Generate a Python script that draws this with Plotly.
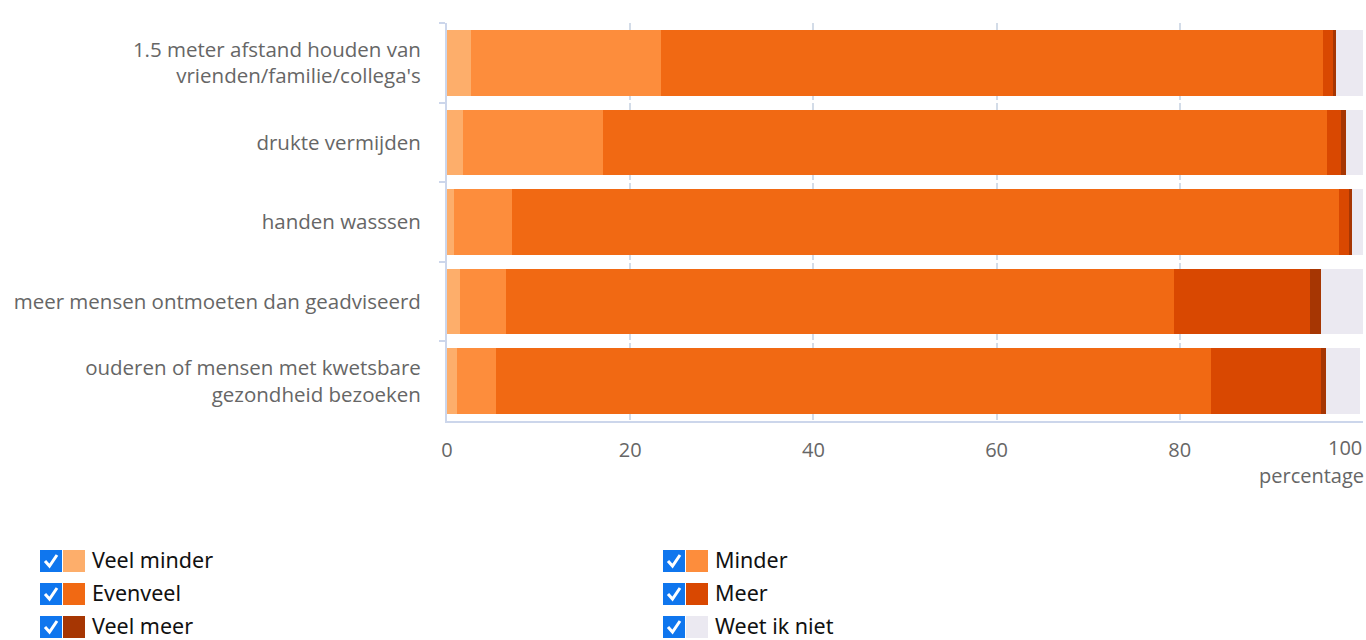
import plotly.graph_objects as go

categories = [
    "1.5 meter afstand houden van<br>vrienden/familie/collega's",
    "drukte vermijden",
    "handen wasssen",
    "meer mensen ontmoeten dan geadviseerd",
    "ouderen of mensen met kwetsbare<br>gezondheid bezoeken",
]

series_names = ["Veel minder", "Minder", "Evenveel", "Meer", "Veel meer", "Weet ik niet"]
veel_minder = [2.6, 1.8, 0.8, 1.4, 1.1]
minder = [20.8, 15.2, 6.3, 5.0, 4.2]
evenveel = [72.2, 79.1, 90.3, 73.0, 78.1]
meer = [1.1, 1.5, 1.1, 14.8, 12.0]
veel_meer = [0.4, 0.5, 0.3, 1.2, 0.6]
weet_ik_niet = [2.9, 1.9, 1.2, 4.6, 3.7]
series_values = [veel_minder, minder, evenveel, meer, veel_meer, weet_ik_niet]
colors = ["#fdae6b", "#fd8d3c", "#f16913", "#d94801", "#a63603", "#ebe9f1"]

x_ticks = [0, 20, 40, 60, 80, 100]
x_ticktext = ["0", "20", "40", "60", "80", ""]
last_tick_label = "100"  # drawn right-justified inside the chart, as in the original

W, H = 1366, 640
L, R, T, B = 447, 3, 23, 219
PW, PH = W - L - R, H - T - B


def px(x):
    return (x - L) / PW


def py(y):
    return (H - B - y) / PH


fig = go.Figure()
for name, vals, col in zip(series_names, series_values, colors):
    fig.add_trace(go.Bar(
        y=categories, x=vals, name=name, orientation="h",
        marker=dict(color=col, line=dict(width=0)),
        showlegend=False,
        hovertemplate="%{y}: %{x}%<extra>" + name + "</extra>",
    ))

axis_col = "#ccd6eb"
fig.update_layout(
    width=W, height=H,
    margin=dict(l=L, r=R, t=T, b=B, pad=0, autoexpand=False),
    barmode="stack", bargap=0.175,
    plot_bgcolor="white", paper_bgcolor="white",
    font=dict(family="Open Sans", size=20, color="#666666"),
    xaxis=dict(
        range=[0, 100], tickvals=x_ticks, ticktext=x_ticktext,
        showgrid=True, gridcolor="#d3dce8", gridwidth=2, griddash="7px,3px",
        showline=True, linecolor=axis_col, linewidth=2,
        ticks="", zeroline=False, ticklabelstandoff=10, automargin=False,
        tickfont=dict(size=20, color="#666666"),
    ),
    yaxis=dict(
        autorange="reversed", type="category", automargin=False,
        showline=True, linecolor=axis_col, linewidth=2,
        ticks="outside", tickson="boundaries", ticklen=6, tickwidth=2, tickcolor=axis_col,
        showgrid=False, ticklabelstandoff=20,
        tickfont=dict(size=20.5, color="#666666"),
    ),
)

fig.add_annotation(
    text=last_tick_label, xref="x", yref="paper", x=x_ticks[-1], y=py(447.5),
    xanchor="right", yanchor="middle", showarrow=False, borderpad=0,
    font=dict(size=20, color="#666666", family="Open Sans"),
)
fig.add_annotation(
    text="percentage", xref="paper", yref="paper", x=px(1365), y=py(475),
    xanchor="right", yanchor="middle", showarrow=False, borderpad=0,
    font=dict(size=20, color="#666666", family="Open Sans"),
)

# custom legend with checkbox + colour square
col_x = [40, 663]
row_y = [561, 594, 627]
shapes = []
for i, (name, col) in enumerate(zip(series_names, colors)):
    x0 = col_x[i % 2]
    c = row_y[i // 2]
    shapes.append(dict(type="rect", xref="paper", yref="paper",
                       x0=px(x0), x1=px(x0 + 22), y0=py(c + 11), y1=py(c - 11),
                       fillcolor="#0f76ee", line=dict(width=0), layer="above"))
    shapes.append(dict(type="path", xref="paper", yref="paper",
                       path=f"M {px(x0 + 5)} {py(c)} L {px(x0 + 9.5)} {py(c + 5)} L {px(x0 + 17)} {py(c - 6)}",
                       line=dict(color="white", width=3), layer="above"))
    shapes.append(dict(type="rect", xref="paper", yref="paper",
                       x0=px(x0 + 23), x1=px(x0 + 45), y0=py(c + 11), y1=py(c - 11),
                       fillcolor=col, line=dict(width=0), layer="above"))
    fig.add_annotation(
        text=name, xref="paper", yref="paper", x=px(x0 + 51), y=py(c - 2),
        xanchor="left", yanchor="middle", showarrow=False, borderpad=0,
        font=dict(size=21.5, color="#111111", family="Noto Sans"),
    )
fig.update_layout(shapes=shapes)

fig.write_html("out.html")
